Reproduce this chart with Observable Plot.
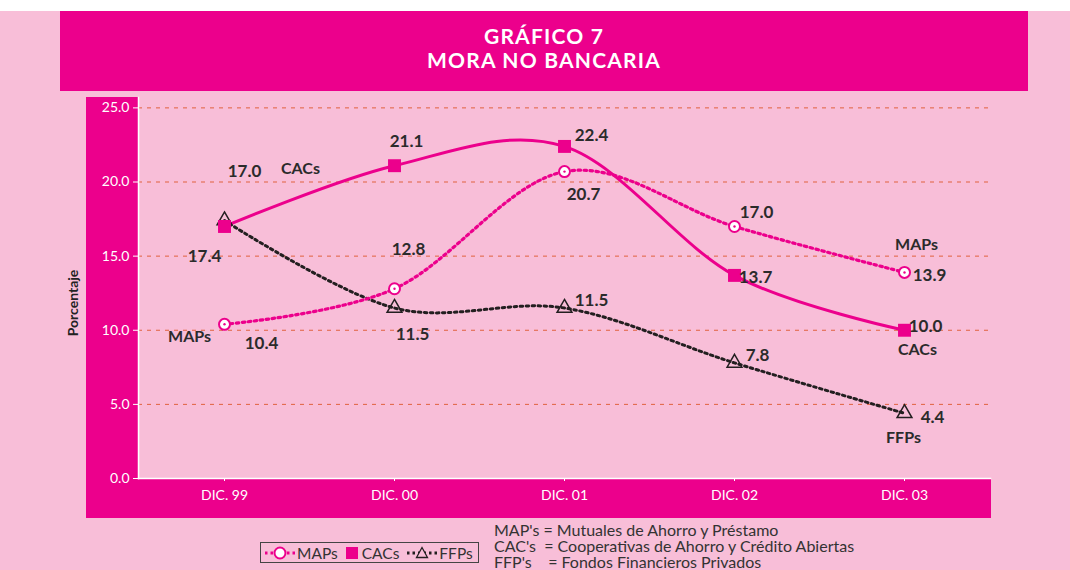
<!DOCTYPE html>
<html><head><meta charset="utf-8">
<script src="https://cdn.jsdelivr.net/npm/d3@7"></script>
<script src="https://cdn.jsdelivr.net/npm/@observablehq/plot@0.6"></script>
<style>
body{margin:0;background:#f8bed8;font-family:Lato,"Open Sans",sans-serif;}
#wrap{position:relative;width:1070px;height:570px;overflow:hidden;background:#f8bed8;}
.top{position:absolute;left:0;top:0;width:1070px;height:11px;background:#fff;}
.title{position:absolute;left:60px;top:11px;width:968px;height:80px;background:#ec008c;color:#fff;
  font-weight:700;font-size:21px;line-height:23.5px;letter-spacing:1.2px;text-align:center;box-sizing:border-box;padding-top:13px;}
.stripL{position:absolute;left:86px;top:97px;width:52px;height:421px;background:#ec008c;}
.stripB{position:absolute;left:86px;top:478px;width:905px;height:40px;background:#ec008c;}
.ylab{position:absolute;left:72px;top:303px;transform:translate(-50%,-50%) rotate(-90deg);font-weight:700;font-size:14px;color:#222;white-space:nowrap;}
#chart{position:absolute;left:0;top:0;}
#chart svg{background:transparent;overflow:visible;}
.legend{position:absolute;left:260px;top:542px;width:219px;height:21px;box-sizing:border-box;border:1.5px solid #444;
  font-size:15.5px;color:#333;display:flex;align-items:center;white-space:nowrap;}
.legend svg{display:block}
.legend span{margin-right:2px}
.notes{position:absolute;left:494px;top:522px;font-size:16px;line-height:16px;color:#333;white-space:pre;}
</style></head><body>
<div id="wrap">
<div class="top"></div>
<div class="title">GRÁFICO 7<br>MORA NO BANCARIA</div>
<div class="stripL"></div><div class="stripB"></div>
<div class="ylab">Porcentaje</div>
<div id="chart"></div>
<div class="legend" id="legend"></div>
<div class="notes" id="notes"></div>
</div>
<script>
const periods = ["DIC. 99", "DIC. 00", "DIC. 01", "DIC. 02", "DIC. 03"];
const seriesNames = ["MAPs", "CACs", "FFPs"];
const mapsValues = [10.4, 12.8, 20.7, 17.0, 13.9];
const cacsValues = [17.0, 21.1, 22.4, 13.7, 10.0];
const ffpsValues = [17.4, 11.5, 11.5, 7.8, 4.4];
const yTicks = [0, 5, 10, 15, 20, 25];
const noteLines = [
  "MAP's = Mutuales de Ahorro y Préstamo",
  "CAC's  = Cooperativas de Ahorro y Crédito Abiertas",
  "FFP's    = Fondos Financieros Privados"
];

const MAG = "#ec008c", DARK = "#231f20", GRID = "#e0623e", TXT = "#2b2b2b";

const rows = (name, vals) => vals.map((v, i) => ({series: name, period: periods[i], i, value: v}));
const maps = rows("MAPs", mapsValues);
const cacs = rows("CACs", cacsValues);
const ffps = rows("FFPs", ffpsValues);
const bySeries = {MAPs: maps, CACs: cacs, FFPs: ffps};

// label placement (pixel offsets from each point)
const valueOffsets = {
  MAPs: [[37, 19], [14, -39], [19, 23], [22, -14], [25, 3]],
  CACs: [[20, -55], [12, -24], [27, -11], [21, 2], [21, -4]],
  FFPs: [[-20, 36], [18, 27], [27, -7], [23, -7], [28, 4]]
};
const nameOffsets = [
  ["CACs", 0, 76, -58], ["MAPs", 0, -35, 13],
  ["MAPs", 4, 12, -28], ["CACs", 4, 13, 20], ["FFPs", 4, -1, 25]
];

const labelMarks = [];
for (const s of seriesNames) {
  bySeries[s].forEach((d, k) => {
    const [dx, dy] = valueOffsets[s][k];
    labelMarks.push(Plot.text([d], {x: "period", y: "value", text: d => d.value.toFixed(1), dx, dy,
      fontSize: 17, fontWeight: 700, fill: TXT, textAnchor: "middle", lineAnchor: "middle"}));
  });
}
for (const [s, k, dx, dy] of nameOffsets) {
  const d = bySeries[s][k];
  labelMarks.push(Plot.text([d], {x: "period", y: "value", text: d => d.series, dx, dy,
    fontSize: 16, fontWeight: 700, fill: TXT, textAnchor: "middle", lineAnchor: "middle"}));
}

const chart = Plot.plot({
  width: 1070, height: 525,
  marginLeft: 138, marginRight: 80, marginTop: 97, marginBottom: 47,
  style: {fontFamily: "Lato, sans-serif", background: "transparent"},
  x: {type: "point", domain: periods, padding: 0.5, label: null},
  y: {domain: [0, 25.7], label: null},
  marks: [
    Plot.ruleY(yTicks.slice(1), {stroke: GRID, strokeWidth: 1, strokeDasharray: "4,5"}),
    Plot.axisY({ticks: yTicks, tickFormat: d => d.toFixed(1), tickSize: 5, tickPadding: 4,
      stroke: "#fff", fill: "#fff", fontSize: 14, label: null}),
    Plot.axisX({tickSize: 3, tickPadding: 9, stroke: "#fff", fill: "#fff", fontSize: 14, label: null}),
    Plot.frame({anchor: "left", stroke: "#fff", strokeWidth: 1.5}),
    Plot.frame({anchor: "bottom", stroke: "#fff", strokeWidth: 1.5}),
    Plot.line(ffps, {x: "period", y: "value", stroke: DARK, strokeWidth: 3, strokeDasharray: "2.5,3.5", curve: "cardinal"}),
    Plot.line(maps, {x: "period", y: "value", stroke: MAG, strokeWidth: 3.2, strokeDasharray: "2.5,3.5", curve: "cardinal"}),
    Plot.line(cacs, {x: "period", y: "value", stroke: MAG, strokeWidth: 3, curve: "cardinal"}),
    Plot.dot(ffps, {x: "period", y: "value", symbol: "triangle", r: 5.5, stroke: DARK, strokeWidth: 1.5, fill: "none"}),
    Plot.dot(cacs, {x: "period", y: "value", symbol: "square", r: 7.3, fill: MAG, stroke: "none"}),
    Plot.dot(maps, {x: "period", y: "value", symbol: "circle", r: 5.5, fill: "#fff", stroke: MAG, strokeWidth: 2}),
    Plot.dot(maps, {x: "period", y: "value", r: 1.2, fill: MAG}),
    ...labelMarks
  ]
});
document.getElementById("chart").appendChild(chart);

// legend
const legend = document.getElementById("legend");
const sym = {
  MAPs: `<svg width="36" height="14"><line x1="4" y1="7" x2="34" y2="7" stroke="${MAG}" stroke-width="3" stroke-dasharray="2.5,3"/><circle cx="19" cy="7" r="5.5" fill="#fff" stroke="${MAG}" stroke-width="2"/></svg>`,
  CACs: `<svg width="22" height="14"><rect x="6" y="1" width="12" height="12" fill="${MAG}"/></svg>`,
  FFPs: `<svg width="38" height="14"><line x1="6" y1="7" x2="36" y2="7" stroke="${DARK}" stroke-width="3" stroke-dasharray="2.5,3"/><path d="M21,1.5 L26.5,11.5 L15.5,11.5 Z" fill="#f8bed8" stroke="${DARK}" stroke-width="1.3"/></svg>`
};
legend.innerHTML = seriesNames.map(s => `${sym[s]}<span>${s}</span>`).join("");
document.getElementById("notes").textContent = noteLines.join("\n");
</script>
</body></html>
